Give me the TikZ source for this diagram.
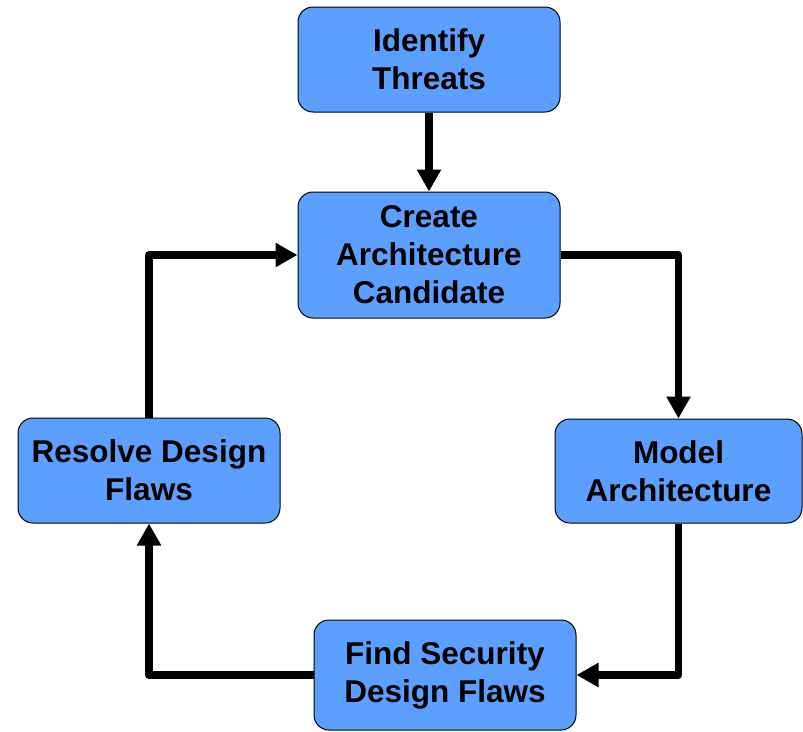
\documentclass[tikz,border=0pt]{standalone}
\usepackage{fontspec}
\setmainfont{Liberation Sans}
\usetikzlibrary{arrows.meta}
\definecolor{boxblue}{HTML}{5CA0FF}
\begin{document}
\begin{tikzpicture}[x=1pt,y=-1pt,
  stepbox/.style={draw=black,line width=1pt,fill=boxblue,rounded corners=15pt,
    align=center,inner sep=0pt,font=\fontsize{31.5}{38}\selectfont\bfseries},
  flow/.style={line width=7.5pt,line join=round,-{Triangle[length=22pt,width=23pt]}}]
\useasboundingbox (0,0) rectangle (803,731);
\node[stepbox,minimum width=262pt,minimum height=105pt] (threats) at (429,59.5) {Identify\\Threats};
\node[stepbox,minimum width=262pt,minimum height=126pt] (create) at (429,255) {Create\\Architecture\\Candidate};
\node[stepbox,minimum width=247pt,minimum height=104pt] (model) at (678.5,471) {Model\\Architecture};
\node[stepbox,minimum width=262pt,minimum height=105pt] (resolve) at (149,470.5) {Resolve Design\\Flaws};
\node[stepbox,minimum width=262pt,minimum height=110pt] (find) at (445,675) {Find Security\\Design Flaws};
\draw[flow] (threats.south) -- (create.north);
\draw[flow] (create.east) -| (model.north);
\draw[flow] (model.south) |- (find.east);
\draw[flow] (find.west) -| (resolve.south);
\draw[flow] (resolve.north) |- (create.west);
\end{tikzpicture}
\end{document}
